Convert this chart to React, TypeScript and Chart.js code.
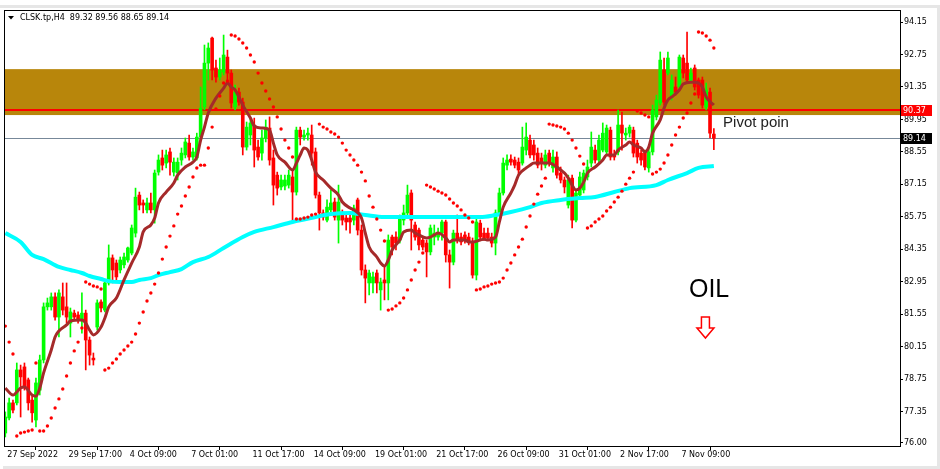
import React, { useEffect, useRef } from "react";
import { Chart, registerables } from "chart.js";

Chart.register(...registerables);

// ---------- DATA (H4 candles, CLSK.tp) ----------
const OPEN = [76.43,77.08,77.73,77.73,79.15,79.28,78.72,77.85,76.99,78.28,
79.58,81.87,81.87,82.30,81.43,82.30,81.87,81.17,81.60,81.52,
81.30,81.60,80.44,79.66,81.00,82.08,81.73,82.90,83.98,83.76,
83.46,83.68,83.89,84.19,85.05,86.69,86.35,86.05,86.35,86.05,
87.68,88.29,88.07,88.55,87.68,87.64,88.20,88.42,88.93,88.33,
88.29,89.19,90.49,92.38,93.46,92.17,91.78,91.99,92.64,91.95,
90.49,91.13,90.70,88.76,89.28,89.71,88.76,88.50,89.15,89.58,
88.29,87.55,87.04,87.08,87.12,87.47,86.82,89.49,89.19,89.28,
89.28,88.55,86.69,85.92,85.61,86.05,86.39,85.61,85.92,85.70,
85.70,85.61,86.48,85.18,83.46,82.90,82.90,83.33,82.60,83.03,
82.90,84.88,84.88,84.75,85.61,85.92,86.78,85.40,85.18,84.75,
84.62,84.24,84.88,84.88,85.05,85.53,84.11,83.80,85.05,84.88,
84.97,84.88,84.67,83.24,85.48,85.05,85.05,84.88,84.62,85.92,
86.78,87.98,88.24,88.20,88.11,88.07,88.63,89.06,88.85,88.50,
88.29,87.98,88.50,87.86,88.33,87.64,87.34,86.26,87.42,85.61,
86.69,86.91,87.47,88.07,88.63,88.20,88.63,88.55,89.49,88.42,
88.55,89.71,89.28,89.36,89.49,88.93,88.50,88.50,87.86,88.55,
90.06,90.66,92.08,91.95,90.92,91.35,91.35,92.60,92.38,91.65,
92.17,91.65,91.65,90.49,91.13,89.32];

const HIGH = [77.34,77.94,77.85,79.45,79.36,79.45,78.80,78.07,78.80,79.79,
82.04,82.25,82.47,82.47,82.60,82.90,82.90,81.82,81.73,81.65,
82.47,81.73,80.57,79.88,82.17,82.17,83.03,84.54,84.11,83.89,
84.02,84.19,84.45,85.40,86.99,86.82,86.48,86.56,86.78,87.77,
88.42,88.63,88.63,88.72,88.29,88.29,88.72,89.15,89.28,88.72,
89.36,91.35,93.16,93.25,93.50,92.51,92.60,93.59,92.94,92.08,
91.43,91.30,90.87,89.84,90.01,90.01,89.06,89.49,89.93,90.06,
88.63,87.68,87.55,87.55,87.77,87.77,89.62,89.62,89.49,89.58,
89.71,88.72,86.82,86.05,86.48,86.91,86.56,87.12,86.05,85.83,
85.96,86.26,86.56,85.40,83.68,83.46,83.37,83.46,83.11,83.59,
84.97,84.97,85.10,85.83,86.26,87.12,86.91,85.53,85.27,84.88,
84.75,85.40,85.40,85.27,85.61,85.61,84.32,85.18,85.83,85.05,
85.10,85.05,84.84,85.70,85.61,85.27,85.27,85.05,86.05,86.99,
88.29,88.42,88.42,88.33,88.29,89.62,89.80,89.28,89.06,88.72,
88.50,88.63,88.63,88.63,88.55,87.90,87.47,87.55,87.55,86.91,
87.68,87.77,88.20,89.41,88.85,89.28,89.80,89.71,89.62,88.63,
90.36,90.27,89.58,89.71,89.62,89.06,88.63,88.63,88.72,90.57,
91.00,92.86,92.60,92.86,91.87,91.78,92.73,92.73,93.72,92.17,
92.30,91.74,91.78,91.52,91.30,89.56];

const LOW = [76.26,76.99,77.30,77.64,77.12,78.28,77.42,76.90,76.69,78.07,
79.45,81.73,81.73,81.30,80.57,81.52,81.17,80.57,81.30,81.17,
80.74,79.15,79.36,79.36,80.87,81.65,81.65,82.81,82.90,83.03,
83.33,83.55,83.80,84.11,84.88,86.05,85.92,85.92,85.92,85.48,
87.55,87.77,87.86,87.55,87.51,87.34,87.98,88.29,88.20,88.20,
88.20,89.06,90.36,91.65,91.65,91.56,91.65,91.87,91.65,90.44,
90.36,90.57,88.42,88.63,88.85,87.90,88.20,88.20,88.98,87.98,
86.26,86.69,86.91,86.91,86.99,85.53,86.69,88.85,89.06,89.06,
87.98,86.56,85.18,85.61,85.53,85.92,85.61,84.62,85.40,85.18,
85.05,85.40,84.97,83.24,82.04,82.38,82.47,82.47,81.73,82.17,
82.17,84.11,84.32,84.62,85.40,85.83,84.32,84.75,84.32,84.32,
83.16,84.11,84.54,84.75,84.75,83.80,82.68,83.68,84.62,84.54,
84.62,84.54,83.11,83.03,84.75,84.75,84.75,84.45,84.11,85.83,
86.69,87.77,87.98,87.86,87.55,87.98,88.42,88.29,88.20,87.86,
87.77,87.86,87.94,87.68,87.42,87.21,86.78,86.13,85.27,85.53,
86.56,86.78,87.34,87.90,88.07,88.07,88.55,88.42,88.20,88.20,
88.42,88.63,89.06,89.19,88.33,88.07,87.98,87.77,87.68,88.42,
89.93,90.57,90.57,91.87,90.79,91.00,91.22,91.74,91.56,91.52,
91.22,90.87,90.44,90.36,89.15,88.65];

const CLOSE = [77.12,77.73,77.42,79.15,78.85,78.41,77.73,77.30,78.59,79.58,
81.87,82.04,82.30,81.43,82.47,81.73,81.43,81.65,81.43,81.30,
81.60,80.44,79.79,79.58,82.04,81.82,82.90,83.98,83.46,83.16,
83.89,84.02,84.41,85.27,86.60,86.26,86.26,86.35,86.05,87.64,
88.20,87.98,88.42,88.11,88.11,88.11,88.50,88.98,88.33,88.55,
89.19,90.44,92.38,93.03,92.08,91.78,92.08,92.73,91.95,90.66,
91.13,90.70,88.76,89.62,89.80,88.63,88.33,89.15,89.62,88.20,
87.12,86.99,87.34,87.34,87.55,86.82,89.49,89.19,89.28,89.36,
88.50,86.69,85.92,85.74,86.17,86.35,85.74,86.39,85.61,85.53,
85.53,86.13,85.18,83.46,83.11,83.33,83.16,82.90,82.94,82.90,
84.75,84.45,84.62,85.70,85.92,86.69,85.61,84.88,84.54,84.45,
84.24,85.27,85.05,85.05,85.53,84.11,83.80,85.05,84.75,84.67,
84.75,84.67,83.24,85.53,84.88,84.84,84.84,84.62,85.92,86.78,
88.07,88.20,88.11,87.98,87.77,88.76,89.19,88.42,88.42,87.98,
88.07,88.42,88.07,88.33,87.55,87.34,87.04,87.34,85.61,86.78,
87.47,87.64,87.90,88.76,88.20,89.06,89.36,89.58,88.33,88.33,
89.71,89.36,89.36,89.62,88.50,88.33,88.20,87.90,88.55,90.36,
90.79,92.51,90.70,92.60,91.65,91.13,92.64,91.95,91.65,91.95,
91.35,91.00,90.57,91.22,89.36,89.14];

// Parabolic SAR, one value per bar
const SAR = [81.04,80.35,79.84,76.30,76.43,76.47,76.52,76.56,79.45,76.52,
76.52,76.73,77.08,77.51,77.90,78.33,78.89,79.45,79.97,80.35,
80.96,82.94,82.85,82.77,82.73,82.64,79.15,79.23,79.45,79.62,
79.84,80.01,80.18,80.35,80.70,81.17,81.65,82.12,82.47,82.85,
83.33,83.93,84.45,84.92,85.36,85.87,86.22,86.65,87.04,87.47,
87.86,87.98,87.98,88.72,89.62,90.40,90.96,91.52,91.61,93.59,
93.55,93.42,93.25,93.03,92.73,92.43,91.95,91.52,91.18,90.83,
90.49,90.06,89.54,89.06,88.72,88.33,85.66,85.66,85.70,85.74,
85.83,85.87,89.75,89.62,89.54,89.41,89.32,89.19,88.93,88.63,
88.42,88.20,87.98,87.68,87.30,86.65,86.17,85.66,85.18,84.71,
81.73,81.78,81.91,82.04,82.25,82.60,83.03,83.46,83.80,84.19,
87.12,87.04,86.95,86.86,86.78,86.69,86.52,86.35,86.22,86.05,
85.83,85.70,85.53,82.60,82.64,82.73,82.77,82.85,82.90,82.94,
83.11,83.46,83.76,84.11,84.45,84.79,85.31,85.79,86.30,86.73,
87.08,87.42,89.75,89.71,89.67,89.62,89.54,89.36,89.06,88.72,
88.37,88.03,85.27,85.36,85.53,85.66,85.79,86.00,86.17,86.39,
86.60,86.86,87.16,87.42,87.68,90.31,90.23,90.14,90.06,87.60,
87.68,87.81,88.07,88.42,88.85,89.28,89.62,90.01,90.23,90.66,
91.05,93.72,93.68,93.55,93.37,93.03];

// Fast moving average (brown), read at these bars
const MA_FAST_BARS = [0,2,4,5,7,8,9,10,12,13,
14,16,17,20,21,22,23,25,26,27,
29,31,33,35,36,38,39,40,42,44,
45,47,49,50,51,52,53,55,57,58,
59,60,61,62,64,65,67,69,70,71,
73,75,76,77,78,79,80,81,83,85,
87,88,90,91,93,94,95,97,98,99,
100,101,103,104,106,107,108,110,111,112,
113,115,116,117,120,121,122,124,125,126,
128,129,130,132,133,134,136,137,138,140,
142,144,145,146,147,148,149,150,151,152,
154,156,157,159,160,162,163,164,166,167,
168,169,171,172,173,174,176,177,179,180,
181,182,183,185];
const MA_FAST = [78.37,78.07,78.37,78.41,78.07,78.02,78.37,79.02,80.01,80.57,
80.83,81.09,81.26,81.30,81.17,80.87,80.66,81.00,81.39,81.87,
82.25,83.03,83.76,84.45,85.10,85.40,85.70,86.35,86.82,87.21,
87.55,87.90,88.11,88.33,89.06,89.62,90.23,90.87,91.30,91.52,
91.35,91.22,90.92,90.57,90.01,89.67,89.58,89.49,88.93,88.42,
88.11,87.77,88.07,88.42,88.72,88.63,88.20,87.68,87.34,86.99,
86.69,86.39,86.13,86.05,85.70,85.05,84.45,84.02,83.76,83.63,
83.89,84.32,84.75,85.10,85.18,85.05,84.97,84.84,84.88,84.97,
85.05,84.84,84.67,84.75,84.75,84.67,84.67,84.75,84.79,84.75,
84.88,85.53,86.17,86.78,87.12,87.55,87.86,87.98,88.07,88.07,
88.07,87.90,87.77,87.64,87.42,87.12,86.91,86.99,87.25,87.64,
87.90,88.20,88.42,88.42,88.63,88.85,88.98,88.85,88.72,88.55,
88.76,89.36,89.93,90.44,90.79,90.92,91.22,91.48,91.56,91.56,
91.52,91.35,90.92,90.57];

// Slow moving average (aqua), read at these bars
const MA_SLOW_BARS = [0,4,7,10,14,17,20,22,25,27,30,33,35,38,40,43,46,49,
53,57,62,65,70,75,81,85,90,94,99,108,116,124,128,132,137,140,145,150,
154,159,163,170,173,178,181,185];
const MA_SLOW = [85.05,84.67,84.11,83.93,83.59,83.46,83.33,83.20,83.07,82.98,
82.94,82.94,83.03,83.11,83.24,83.37,83.50,83.80,
84.02,84.41,84.88,85.10,85.31,85.53,85.74,85.87,85.92,85.83,
85.74,85.74,85.74,85.74,85.83,85.96,86.17,86.35,86.48,86.56,
86.61,86.82,86.99,87.12,87.34,87.64,87.86,87.94];

const X_TICK_BARS = [0,16,32,48,64,80,96,112,128,144,160,176];
const X_TICK_LABELS = ["27 Sep 2022","29 Sep 17:00","4 Oct 09:00","7 Oct 01:00","11 Oct 17:00","14 Oct 09:00","19 Oct 01:00","21 Oct 17:00","26 Oct 09:00","31 Oct 01:00","2 Nov 17:00","7 Nov 09:00"];
const Y_TICKS = [76.00,77.35,78.75,80.15,81.55,82.95,84.35,85.75,87.15,88.55,89.95,91.35,92.75,94.15];

const Y_MIN = 75.87;
const Y_MAX = 94.67;
const X_MIN = -0.34;
const X_MAX = 233.6;

const ZONE_BOTTOM = 90.14;
const ZONE_TOP = 92.12;
const PIVOT_LEVEL = 90.37;
const BID = 89.14;
const HEADER = "CLSK.tp,H4  89.32 89.56 88.65 89.14";

const PIVOT_TEXT = { text: "Pivot poin", bar: 187.4, price: 89.64 };
const OIL_TEXT = { text: "OIL", bar: 178.5, price: 82.31 };
const ARROW_AT = { bar: 182.8, price: 81.43 };

const FONT = '"DejaVu Sans", Tahoma, sans-serif';
const BULL = "#00ff00";
const BEAR = "#ff0000";
const W = 940;
const H = 469;

export default function App() {
  const ref = useRef<HTMLCanvasElement>(null);

  useEffect(() => {
    const canvas = ref.current;
    if (!canvas) return;
    const idx = OPEN.map((_, i) => i);
    const colors = idx.map((i) => (CLOSE[i] >= OPEN[i] ? BULL : BEAR));

    const overlay = {
      id: "mt4overlay",
      beforeDatasetsDraw(chart: any) {
        const { ctx, chartArea: a, scales } = chart;
        const y = scales.y;
        ctx.save();
        const zt = y.getPixelForValue(ZONE_TOP);
        const zb = y.getPixelForValue(ZONE_BOTTOM);
        ctx.fillStyle = "#b8860b";
        ctx.fillRect(a.left, zt, a.right - a.left, zb - zt);
        // bid line
        const yb = Math.round(y.getPixelForValue(BID)) + 0.5;
        ctx.strokeStyle = "#778899";
        ctx.lineWidth = 1;
        ctx.beginPath();
        ctx.moveTo(a.left, yb);
        ctx.lineTo(a.right, yb);
        ctx.stroke();
        // pivot line
        const yp = Math.round(y.getPixelForValue(PIVOT_LEVEL));
        ctx.strokeStyle = "#ff0000";
        ctx.lineWidth = 2;
        ctx.beginPath();
        ctx.moveTo(a.left, yp);
        ctx.lineTo(a.right, yp);
        ctx.stroke();
        ctx.restore();
      },
      afterDraw(chart: any) {
        const { ctx, chartArea: a, scales } = chart;
        const x = scales.x;
        const y = scales.y;
        ctx.save();
        // plot frame
        ctx.strokeStyle = "#000";
        ctx.lineWidth = 1;
        ctx.strokeRect(a.left + 0.5, a.top + 0.5, a.right - a.left, a.bottom - a.top);

        // header
        ctx.fillStyle = "#000";
        ctx.beginPath();
        ctx.moveTo(8, 16);
        ctx.lineTo(14, 16);
        ctx.lineTo(11, 19.5);
        ctx.closePath();
        ctx.fill();
        ctx.font = `8px ${FONT}`;
        ctx.textBaseline = "middle";
        ctx.textAlign = "left";
        ctx.fillText(HEADER, 20, 17.5);

        // price tags on the axis
        const tag = (v: number, bg: string) => {
          const py = y.getPixelForValue(v);
          ctx.fillStyle = bg;
          ctx.fillRect(a.right + 1, Math.round(py) - 5, 31, 11);
          ctx.fillStyle = "#fff";
          ctx.font = `8px ${FONT}`;
          ctx.textBaseline = "middle";
          ctx.fillText(v.toFixed(2), a.right + 3, Math.round(py) + 0.5);
        };
        tag(PIVOT_LEVEL, "#ff0000");
        tag(BID, "#000000");

        // annotations
        ctx.fillStyle = "#222";
        ctx.font = '15px "Liberation Sans", Arial, sans-serif';
        ctx.textBaseline = "alphabetic";
        ctx.fillText(PIVOT_TEXT.text, x.getPixelForValue(PIVOT_TEXT.bar), y.getPixelForValue(PIVOT_TEXT.price));
        ctx.fillStyle = "#000";
        ctx.font = '25px "Liberation Sans", Arial, sans-serif';
        ctx.fillText(OIL_TEXT.text, x.getPixelForValue(OIL_TEXT.bar), y.getPixelForValue(OIL_TEXT.price));

        // hollow down arrow
        const ax = x.getPixelForValue(ARROW_AT.bar);
        const ay = y.getPixelForValue(ARROW_AT.price);
        ctx.strokeStyle = "#ff0000";
        ctx.lineWidth = 1.5;
        ctx.beginPath();
        ctx.moveTo(ax - 4, ay);
        ctx.lineTo(ax + 4, ay);
        ctx.lineTo(ax + 4, ay + 11);
        ctx.lineTo(ax + 8.5, ay + 11);
        ctx.lineTo(ax, ay + 21);
        ctx.lineTo(ax - 8.5, ay + 11);
        ctx.lineTo(ax - 4, ay + 11);
        ctx.closePath();
        ctx.stroke();

        // window frame
        ctx.fillStyle = "#e6e6e6";
        ctx.fillRect(0, 5, chart.width, 3);
        ctx.fillRect(chart.width - 3, 5, 3, chart.height - 6);
        ctx.fillRect(3, chart.height - 3, chart.width - 3, 3);
        ctx.restore();
      },
    };

    const chart = new Chart(canvas, {
      type: "bar",
      data: {
        datasets: [
          {
            type: "line",
            label: "Parabolic SAR",
            data: SAR.map((v, i) => ({ x: i, y: v })),
            showLine: false,
            pointRadius: 1.7,
            pointHoverRadius: 1.7,
            pointBackgroundColor: "#ff0000",
            pointBorderWidth: 0,
            borderColor: "#ff0000",
            order: 0,
          } as any,
          {
            type: "line",
            label: "MA fast",
            data: MA_FAST_BARS.map((b, k) => ({ x: b, y: MA_FAST[k] })),
            borderColor: "#a52a2a",
            borderWidth: 3,
            pointRadius: 0,
            cubicInterpolationMode: "monotone",
            order: 1,
          } as any,
          {
            type: "line",
            label: "MA slow",
            data: MA_SLOW_BARS.map((b, k) => ({ x: b, y: MA_SLOW[k] })),
            borderColor: "#00ffff",
            borderWidth: 4,
            pointRadius: 0,
            cubicInterpolationMode: "monotone",
            order: 2,
          } as any,
          {
            type: "bar",
            label: "body",
            data: idx.map((i) => ({ x: i, y: [OPEN[i], CLOSE[i]] })),
            backgroundColor: colors,
            borderWidth: 0,
            barThickness: 3,
            minBarLength: 1,
            grouped: false,
            order: 3,
          } as any,
          {
            type: "bar",
            label: "wick",
            data: idx.map((i) => ({ x: i, y: [LOW[i], HIGH[i]] })),
            backgroundColor: colors,
            borderWidth: 0,
            barThickness: 1,
            minBarLength: 1,
            grouped: false,
            order: 4,
          } as any,
        ],
      },
      options: {
        responsive: false,
        animation: false,
        devicePixelRatio: 1,
        events: [],
        layout: { padding: { left: 4, top: 10, right: 0, bottom: 0 } },
        plugins: {
          legend: { display: false },
          tooltip: { enabled: false },
          title: { display: false },
        },
        scales: {
          x: {
            type: "linear",
            min: X_MIN,
            max: X_MAX,
            offset: false,
            afterBuildTicks: (s: any) => {
              s.ticks = X_TICK_BARS.map((v) => ({ value: v }));
            },
            afterFit: (s: any) => {
              s.height = 23;
            },
            ticks: {
              autoSkip: false,
              maxRotation: 0,
              minRotation: 0,
              align: "start",
              labelOffset: 2,
              padding: 0,
              color: "#000",
              font: { family: FONT, size: 8 },
              callback: (_v: any, i: number) => X_TICK_LABELS[i],
            },
            grid: { display: true, drawOnChartArea: false, drawTicks: true, tickLength: 4, color: "#000" },
            border: { display: false },
          },
          y: {
            type: "linear",
            position: "right",
            min: Y_MIN,
            max: Y_MAX,
            afterBuildTicks: (s: any) => {
              s.ticks = Y_TICKS.map((v) => ({ value: v }));
            },
            afterFit: (s: any) => {
              s.width = 40;
            },
            ticks: {
              autoSkip: false,
              padding: 1,
              color: "#000",
              font: { family: FONT, size: 8 },
              callback: (v: any) => Number(v).toFixed(2),
            },
            grid: { display: true, drawOnChartArea: false, drawTicks: true, tickLength: 3, color: "#000" },
            border: { display: false },
          },
        },
      } as any,
      plugins: [overlay],
    });

    return () => chart.destroy();
  }, []);

  return (
    <div style={{ position: "fixed", left: 0, top: 0, width: W, height: H, background: "#fff" }}>
      <canvas ref={ref} width={W} height={H} style={{ display: "block", width: W, height: H }} />
    </div>
  );
}
